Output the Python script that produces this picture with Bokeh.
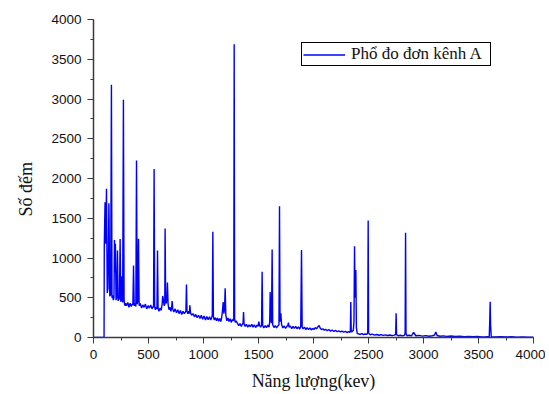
from bokeh.plotting import figure
from bokeh.models import (Range1d, SingleIntervalTicker, Legend, LegendItem,
                          ColumnDataSource, Title)
from bokeh.embed import file_html
from bokeh.resources import INLINE

# ---- data: (energy keV, counts) ----
seg_low = [(0, 0), (96, 0), (98, 1150), (105, 1700), (111, 1180), (118, 1870),
           (125, 560), (132, 620), (140, 1690), (148, 520), (156, 540), (163, 3180),
           (168, 500), (174, 530), (180, 470), (186, 500), (191, 1225), (195, 820),
           (199, 1180), (205, 470), (211, 500), (218, 1095), (224, 460), (230, 490),
           (236, 480), (242, 1240), (248, 450), (254, 480), (259, 770), (265, 440),
           (272, 2990), (278, 460), (285, 400), (292, 430)]
seg_300 = [(300, 400), (312, 440), (322, 380), (333, 430), (343, 390), (352, 420),
           (358, 410), (364, 907), (370, 400), (378, 430), (385, 390), (391, 2227),
           (397, 420), (403, 460), (409, 1241), (415, 400), (425, 430), (437, 370),
           (448, 410), (460, 380), (472, 420), (484, 360), (496, 400), (508, 370),
           (520, 410), (532, 360), (541, 390), (546, 380), (551, 2119), (556, 390)]
seg_560 = [(562, 350), (570, 380), (577, 360), (582, 1095), (587, 370), (595, 330),
           (605, 370), (615, 340), (624, 420), (629, 522), (635, 480), (642, 400),
           (648, 420), (651, 1370), (656, 460), (662, 430), (668, 500), (672, 690),
           (678, 420), (686, 350), (695, 380), (704, 330), (710, 370), (715, 459),
           (720, 360), (730, 320), (742, 360), (754, 310), (766, 350), (778, 300),
           (790, 340), (802, 290), (814, 330), (825, 300), (835, 320), (840, 330),
           (845, 668), (850, 330), (858, 300), (866, 330), (872, 300), (876, 405),
           (882, 310), (892, 280)]
seg_900 = [(905, 300), (918, 260), (930, 290), (942, 250), (955, 280), (968, 240),
           (980, 280), (992, 230), (1005, 270), (1018, 220), (1030, 265), (1042, 225),
           (1055, 260), (1066, 220), (1074, 250), (1080, 280), (1085, 1329), (1090, 260),
           (1098, 220), (1108, 250), (1118, 210), (1128, 245), (1138, 205), (1148, 240),
           (1158, 200), (1166, 260), (1172, 330), (1179, 447), (1185, 300), (1191, 350),
           (1197, 618), (1203, 280), (1212, 210), (1222, 245), (1232, 200), (1242, 235),
           (1252, 190), (1262, 225), (1270, 210), (1275, 250), (1279, 3690), (1283, 230),
           (1288, 190), (1296, 210)]
seg_1300 = [(1308, 180), (1320, 150), (1332, 175), (1344, 140), (1354, 170), (1360, 190),
            (1364, 321), (1369, 170), (1378, 140), (1390, 165), (1402, 130), (1414, 160),
            (1426, 135), (1438, 165), (1450, 130), (1462, 160), (1474, 125), (1486, 155),
            (1496, 140), (1503, 200), (1510, 150), (1520, 130), (1528, 160), (1533, 827),
            (1538, 150), (1548, 120), (1560, 150), (1572, 125), (1584, 155), (1596, 130),
            (1602, 200), (1606, 572), (1611, 250), (1618, 180), (1624, 1107), (1629, 160),
            (1640, 125), (1652, 150), (1664, 120), (1676, 145), (1686, 160), (1691, 1650),
            (1696, 200), (1703, 305), (1710, 160), (1722, 120), (1734, 145), (1746, 115),
            (1758, 140), (1766, 150), (1772, 188), (1778, 130), (1790, 145), (1802, 110),
            (1814, 140), (1826, 115), (1838, 140), (1850, 110), (1862, 135), (1874, 105),
            (1884, 140), (1891, 1099), (1897, 130), (1906, 110), (1918, 130), (1930, 100),
            (1942, 125)]
seg_1950 = [(1955, 100), (1968, 120), (1980, 95), (1992, 115), (2004, 100), (2016, 125),
            (2028, 110), (2040, 135), (2051, 150), (2062, 115), (2074, 100), (2086, 110),
            (2098, 90), (2110, 105), (2125, 85), (2140, 100), (2155, 80), (2170, 95),
            (2185, 75), (2200, 90), (2215, 72), (2230, 85), (2245, 70), (2260, 80),
            (2275, 66), (2290, 78), (2305, 62), (2318, 75), (2330, 65), (2335, 80),
            (2339, 447), (2343, 70), (2352, 75), (2362, 90), (2368, 200), (2373, 1149),
            (2378, 500), (2382, 700), (2385, 848), (2390, 120), (2398, 50)]
seg_2400 = [(2410, 45), (2425, 38), (2440, 48), (2455, 36), (2470, 44), (2485, 40),
            (2493, 60), (2497, 1471), (2501, 55), (2515, 35), (2535, 42), (2555, 30),
            (2575, 38), (2595, 28), (2615, 36), (2635, 26), (2655, 33), (2675, 25),
            (2695, 32), (2715, 24), (2735, 30), (2747, 40), (2751, 305), (2755, 35),
            (2770, 22), (2790, 28), (2810, 20), (2828, 30), (2833, 60), (2837, 1317),
            (2841, 50), (2850, 22), (2870, 28), (2890, 20), (2910, 63), (2930, 22),
            (2960, 26), (2990, 18), (3020, 24), (3050, 16), (3080, 22), (3100, 30),
            (3112, 70), (3124, 25), (3150, 16), (3180, 20), (3210, 14), (3250, 18),
            (3290, 12), (3330, 16), (3370, 10), (3410, 14), (3450, 9), (3490, 12),
            (3530, 8), (3570, 11), (3598, 14), (3602, 200), (3606, 451), (3610, 150),
            (3616, 10), (3650, 8), (3700, 10), (3750, 6), (3800, 9), (3850, 5),
            (3900, 7), (3950, 4), (4000, 4)]

segments = [seg_low, seg_300, seg_560, seg_900, seg_1300, seg_1950, seg_2400]
energy_kev = [e for seg in segments for e, c in seg]
counts = [c for seg in segments for e, c in seg]

x_ticks_interval = 500
y_ticks_interval = 500
legend_label = "Phổ đo đơn kênh A"
x_label = "Năng lượng(kev)"
y_label = "Số đếm"

# ---- figure ----
W, H = 545, 393
FL, FT, FR, FB = 93, 19, 533, 338   # frame edges on the page
p = figure(width=W, height=H, output_backend="svg", toolbar_location=None,
           x_range=Range1d(0, 4000), y_range=Range1d(0, 4000),
           min_border_left=FL, min_border_right=W - FR, min_border_top=FT,
           min_border_bottom=H - FB)
p.outline_line_color = None
p.grid.visible = False
p.background_fill_color = "white"
p.border_fill_color = "white"

src = ColumnDataSource(dict(x=energy_kev, y=counts))
r = p.line("x", "y", source=src, line_color="#0000ff", line_width=1.4)

for ax, interval in ((p.xaxis[0], x_ticks_interval), (p.yaxis[0], y_ticks_interval)):
    ax.ticker = SingleIntervalTicker(interval=interval, num_minor_ticks=2)
    ax.axis_line_color = "#3a3a3a"
    ax.axis_line_width = 1.5
    ax.major_tick_line_color = "#3a3a3a"
    ax.minor_tick_line_color = "#3a3a3a"
    ax.major_tick_out = 6
    ax.major_tick_in = 0
    ax.minor_tick_out = 3
    ax.minor_tick_in = 0
    ax.major_label_text_font = "Liberation Sans"
    ax.major_label_text_font_size = "13.5px"
    ax.major_label_text_color = "#111111"
    ax.major_label_standoff = 6

xa = p.xaxis[0]
xa.axis_label = x_label
xa.axis_label_standoff = 9
xa.axis_label_text_font = "Liberation Serif"
xa.axis_label_text_font_size = "18px"
xa.axis_label_text_font_style = "normal"
xa.axis_label_text_color = "#111111"

# y title as a side title, anchored from the bottom so it sits below centre
ytitle = Title(text=y_label, align="left", offset=121, standoff=26,
               text_font="Liberation Serif", text_font_size="18px",
               text_font_style="normal", text_color="#111111")
p.add_layout(ytitle, "left")

legend = Legend(items=[LegendItem(label=legend_label, renderers=[r])],
                location=(208, 271))
legend.border_line_color = "black"
legend.border_line_width = 1
legend.border_line_alpha = 1
legend.background_fill_alpha = 1
legend.padding = 1
legend.margin = 0
legend.spacing = 0
legend.glyph_width = 42
legend.glyph_height = 15
legend.label_height = 15
legend.label_width = 138
legend.label_standoff = 6
legend.label_text_font = "Liberation Serif"
legend.label_text_font_size = "17px"
legend.label_text_color = "#111111"
p.add_layout(legend)

open("out.html", "w").write(file_html(p, INLINE))
